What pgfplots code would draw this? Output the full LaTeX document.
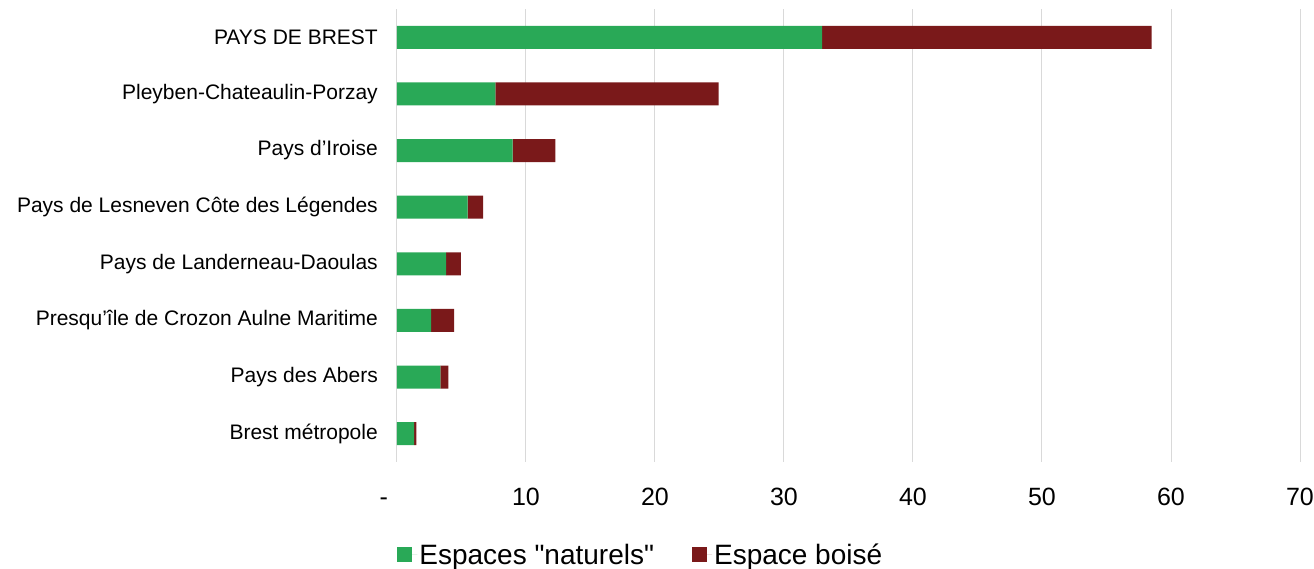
\documentclass[border=0pt]{standalone}
\usepackage{fontspec}
\setmainfont{Liberation Sans}
\usepackage{pgfplots}
\pgfplotsset{compat=1.18}
\definecolor{vert}{RGB}{41,169,87}
\definecolor{bois}{RGB}{122,25,26}
\definecolor{grille}{RGB}{217,217,217}

\begin{document}
\begin{tikzpicture}
    % page = 1314 x 569 px, 1pt per px, axis box at (0,0)-(903,453)
    \path[use as bounding box] (-397pt,-107pt) rectangle (917pt,462pt);
    \begin{axis}[
        scale only axis,
        width=903pt,
        height=453pt,
        xbar stacked,
        bar width=23pt,
        xmin=0, xmax=70,
        ymin=-0.5, ymax=7.5,
        y dir=reverse,
        axis line style={draw=none},
        tick style={draw=none},
        xmajorgrids,
        grid style={grille, line width=1pt},
        xtick={0,10,...,70},
        xticklabels={{\makebox[0pt][r]{-\hspace{9pt}}\vphantom{0}},10,20,30,40,50,60,70},
        x tick label style={font=\fontsize{25}{30}\selectfont, inner sep=0pt, anchor=north, yshift=-26pt},
        ytick={0,...,7},
        yticklabels={PAYS DE BREST, Pleyben-Chateaulin-Porzay, Pays d'Iroise,
            Pays de Lesneven Côte des Légendes, Pays de Landerneau-Daoulas,
            Presqu'île de Crozon Aulne Maritime, Pays des Abers, Brest métropole},
        y tick label style={font=\fontsize{21}{25}\selectfont, inner sep=0pt, anchor=east, xshift=-19pt},
        legend style={
            at={(0.27,-0.205)}, anchor=center,
            draw=none, font=\fontsize{28}{33}\selectfont,
            legend columns=2,
            /tikz/every even column/.append style={column sep=36pt},
            inner sep=0pt,
        },
    ]
        \addplot[fill=vert, draw=none,
            legend image code/.code={\fill[vert] (0pt,-7.5pt) rectangle (15pt,7.5pt); \path (0pt,0pt) -- (20pt,0pt);}]
        coordinates {
            (32.95,0) (7.63,1) (8.97,2) (5.48,3) (3.80,4) (2.64,5) (3.36,6) (1.32,7)
        };
        \addplot[fill=bois, draw=none,
            legend image code/.code={\fill[bois] (0pt,-7.5pt) rectangle (15pt,7.5pt); \path (0pt,0pt) -- (20pt,0pt);}]
        coordinates {
            (25.55,0) (17.30,1) (3.31,2) (1.19,3) (1.16,4) (1.78,5) (0.62,6) (0.18,7)
        };
        \legend{Espaces \textquotedbl naturels\textquotedbl, Espace boisé}
    \end{axis}
\end{tikzpicture}
\end{document}
